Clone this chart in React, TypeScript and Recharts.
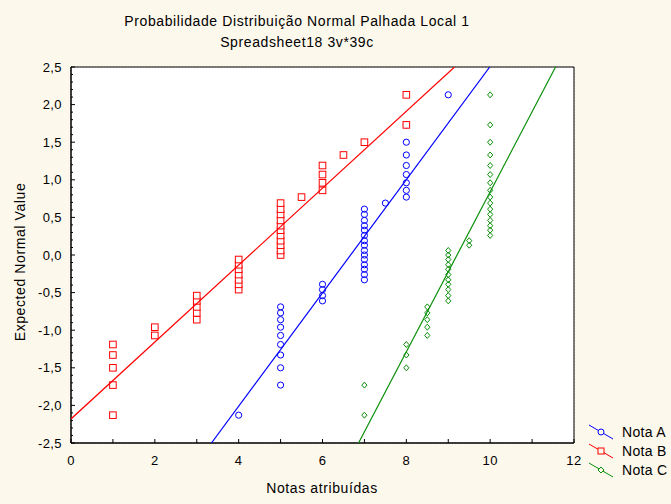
import React from 'react'
import { ComposedChart, Scatter, XAxis, YAxis, CartesianGrid, ReferenceArea, Legend } from 'recharts'

// expected normal value for each of the 39 ranks
const expectedNormal = [
  -2.13, -1.73, -1.5, -1.33, -1.19, -1.07, -0.96, -0.86, -0.77, -0.69,
  -0.61, -0.54, -0.46, -0.39, -0.33, -0.26, -0.19, -0.13, -0.06, 0,
  0.06, 0.13, 0.19, 0.26, 0.33, 0.39, 0.46, 0.54, 0.61, 0.69,
  0.77, 0.86, 0.96, 1.07, 1.19, 1.33, 1.5, 1.73, 2.13,
]

// sorted grades per series
const notaA = [
  4, 5, 5, 5, 5, 5, 5, 5, 5, 5, 6, 6, 6, 6,
  7, 7, 7, 7, 7, 7, 7, 7, 7, 7, 7, 7, 7, 7, 7,
  7.5, 8, 8, 8, 8, 8, 8, 8, 8, 9,
]
const notaB = [
  1, 1, 1, 1, 1, 2, 2, 3, 3, 3, 3, 3, 4, 4, 4, 4, 4, 4, 4,
  5, 5, 5, 5, 5, 5, 5, 5, 5, 5, 5, 5.5, 6, 6, 6, 6, 6.5, 7, 8, 8,
]
const notaC = [
  7, 7, 8, 8, 8, 8.5, 8.5, 8.5, 8.5, 8.5,
  9, 9, 9, 9, 9, 9, 9, 9, 9, 9, 9, 9.5, 9.5,
  10, 10, 10, 10, 10, 10, 10, 10, 10, 10, 10, 10, 10, 10, 10, 10,
]

// fitted lines, end points in data units
const fitA = [{ x: 3.35, y: -2.5 }, { x: 9.99, y: 2.5 }]
const fitB = [{ x: 0, y: -2.18 }, { x: 9.15, y: 2.5 }]
const fitC = [{ x: 6.86, y: -2.5 }, { x: 11.56, y: 2.5 }]

const xTicks = [0, 1, 2, 3, 4, 5, 6, 7, 8, 9, 10, 11, 12]
const xMajorTicks = [0, 2, 4, 6, 8, 10, 12]
const yMajorTicks = [-2.5, -2, -1.5, -1, -0.5, 0, 0.5, 1, 1.5, 2, 2.5]
const yTicks = Array.from({ length: 51 }, (_, i) => Math.round((-2.5 + i * 0.1) * 10) / 10)

const BLUE = '#0000ff'
const RED = '#ff0000'
const GREEN = '#0b8f0b'
const FONT = '"Liberation Sans", Arial, sans-serif'

const toPoints = (xs: number[]) => xs.map((x, i) => ({ x, y: expectedNormal[i] }))

const fmtY = (v: number) => v.toFixed(1).replace('.', ',')

const X_MARGIN = 10
const Y_MARGIN = 9

const XTick = (props: any) => {
  const { x, y, payload } = props
  const ay = y - X_MARGIN
  const major = payload.value % 2 === 0
  return (
    <g>
      <line x1={x} x2={x} y1={ay} y2={ay - 4} stroke="#000" />
      {major && (
        <text x={x} y={ay + 17} dy="0.36em" textAnchor="middle" fontSize={13} letterSpacing={0.4} fontFamily={FONT} fill="#000">
          {payload.value}
        </text>
      )}
    </g>
  )
}

const YTick = (props: any) => {
  const { x, y, payload } = props
  const v = payload.value
  const ax = x + Y_MARGIN
  const major = Math.abs(v * 2 - Math.round(v * 2)) < 1e-6
  return (
    <g>
      <line x1={ax} x2={ax + (major ? 4 : 2)} y1={y} y2={y} stroke="#000" />
      {major && (
        <text x={x} y={y} dy="0.36em" textAnchor="end" fontSize={13} letterSpacing={0.4} fontFamily={FONT} fill="#000">
          {fmtY(v)}
        </text>
      )}
    </g>
  )
}

const CircleMark = (p: any) => <circle cx={p.cx} cy={p.cy} r={3.1} fill="none" stroke={BLUE} />
const SquareMark = (p: any) => <rect x={p.cx - 3.3} y={p.cy - 3.3} width={6.6} height={6.6} fill="#fff" stroke={RED} />
const DiamondMark = (p: any) => (
  <polygon
    points={`${p.cx},${p.cy - 3} ${p.cx + 2.6},${p.cy} ${p.cx},${p.cy + 3} ${p.cx - 2.6},${p.cy}`}
    fill="none"
    stroke={GREEN}
  />
)
const NoMark = () => <g />

const legendItems = [
  { name: 'Nota A', color: BLUE, mark: <circle cx={14} cy={8} r={3} fill="#fdf8ec" stroke={BLUE} /> },
  { name: 'Nota B', color: RED, mark: <rect x={11} y={5} width={6} height={6} fill="#fdf8ec" stroke={RED} /> },
  { name: 'Nota C', color: GREEN, mark: <polygon points="14,5 17,8 14,11 11,8" fill="#fdf8ec" stroke={GREEN} /> },
]

function LegendBox() {
  return (
    <div style={{ fontFamily: FONT, fontSize: 14, letterSpacing: 0.3, color: '#000' }}>
      {legendItems.map((it) => (
        <div key={it.name} style={{ display: 'flex', alignItems: 'center', height: 19 }}>
          <svg width={28} height={16}>
            <line x1={2} y1={1} x2={26} y2={15} stroke={it.color} />
            {it.mark}
          </svg>
          <span style={{ marginLeft: 7 }}>{it.name}</span>
        </div>
      ))}
    </div>
  )
}

export default function App() {
  return (
    <div style={{ position: 'absolute', left: 0, top: 0, width: 671, height: 504, background: '#fdf8ec' }}>
      <ComposedChart width={671} height={504} margin={{ top: 67, right: 97, bottom: 31, left: 0 }}>
        <CartesianGrid xAxisId="top" yAxisId="right" fill="#fff" stroke="#c4c4c4" strokeDasharray="1 2" />
        <XAxis
          xAxisId="x"
          dataKey="x"
          type="number"
          domain={[0, 12]}
          ticks={xTicks}
          interval={0}
          height={30}
          tickSize={0}
          tickMargin={X_MARGIN}
          tickLine={false}
          tick={XTick}
          axisLine={{ stroke: '#000' }}
          allowDataOverflow
        />
        <YAxis
          yAxisId="y"
          dataKey="y"
          type="number"
          domain={[-2.5, 2.5]}
          ticks={yTicks}
          interval={0}
          width={71}
          tickSize={0}
          tickMargin={Y_MARGIN}
          tickLine={false}
          tick={YTick}
          axisLine={{ stroke: '#000' }}
          allowDataOverflow
        />
        <XAxis
          xAxisId="top"
          orientation="top"
          type="number"
          domain={[0, 12]}
          ticks={xMajorTicks}
          interval={0}
          height={0}
          tickSize={-4}
          tickFormatter={() => ''}
          tickLine={{ stroke: '#000' }}
          axisLine={{ stroke: '#000' }}
        />
        <YAxis
          yAxisId="right"
          orientation="right"
          type="number"
          domain={[-2.5, 2.5]}
          ticks={yMajorTicks}
          interval={0}
          width={0}
          tickSize={-4}
          tickFormatter={() => ''}
          tickLine={{ stroke: '#000' }}
          axisLine={{ stroke: '#000' }}
        />
        <ReferenceArea xAxisId="x" yAxisId="y" x1={0} x2={12} y1={-2.5} y2={2.5} fill="none" stroke="#000" />
        <Scatter name="Nota A" xAxisId="x" yAxisId="y" data={toPoints(notaA)} shape={CircleMark} isAnimationActive={false} />
        <Scatter name="Nota B" xAxisId="x" yAxisId="y" data={toPoints(notaB)} shape={SquareMark} isAnimationActive={false} />
        <Scatter name="Nota C" xAxisId="x" yAxisId="y" data={toPoints(notaC)} shape={DiamondMark} isAnimationActive={false} />
        <Scatter xAxisId="x" yAxisId="y" data={fitA} line={{ stroke: BLUE, strokeWidth: 1.2 }} shape={NoMark} legendType="none" isAnimationActive={false} />
        <Scatter xAxisId="x" yAxisId="y" data={fitB} line={{ stroke: RED, strokeWidth: 1.2 }} shape={NoMark} legendType="none" isAnimationActive={false} />
        <Scatter xAxisId="x" yAxisId="y" data={fitC} line={{ stroke: GREEN, strokeWidth: 1.2 }} shape={NoMark} legendType="none" isAnimationActive={false} />
        <Legend
          layout="vertical"
          align="center"
          verticalAlign="middle"
          content={LegendBox}
          wrapperStyle={{ left: 587, top: 422, width: 84, height: 60 }}
        />
      </ComposedChart>
      <svg width={671} height={504} style={{ position: 'absolute', left: 0, top: 0, pointerEvents: 'none' }}>
        <g fontFamily={FONT} fontSize={14} letterSpacing={0.6} fill="#000" textAnchor="middle">
          <text x={297} y={26}>Probabilidade Distribuição Normal Palhada Local 1</text>
          <text x={297} y={47}>Spreadsheet18 3v*39c</text>
          <text x={322} y={493}>Notas atribuídas</text>
          <text x={25} y={262} transform="rotate(-90 25 262)">Expected Normal Value</text>
        </g>
      </svg>
    </div>
  )
}
